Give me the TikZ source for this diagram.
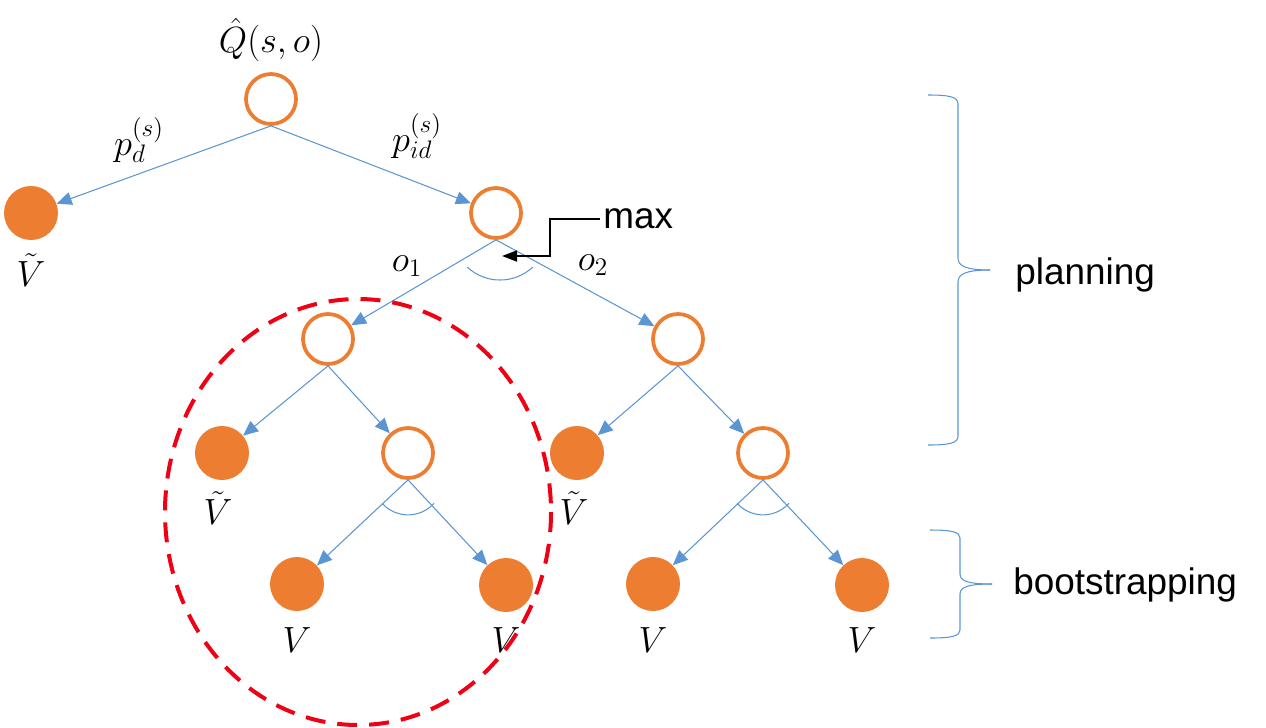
\documentclass[tikz,border=0pt]{standalone}
\usepackage{fontspec}
\setsansfont{Liberation Sans}
\usetikzlibrary{arrows.meta}
\definecolor{ored}{RGB}{237,125,49}
\definecolor{eblue}{RGB}{91,150,210}
\definecolor{dred}{RGB}{240,0,20}
\begin{document}
\begin{tikzpicture}[x=0.02cm,y=-0.02cm,
 open/.style={circle,draw=ored,line width=0.075cm,minimum size=1.0cm,inner sep=0pt,fill=white},
 full/.style={circle,fill=ored,minimum size=1.08cm,inner sep=0pt},
 edge/.style={draw=eblue,line width=0.6pt,-{Triangle[width=0.26cm,length=0.3cm]}},
 mlab/.style={inner sep=0pt,font=\fontsize{21}{25}\selectfont},
 wlab/.style={inner sep=0pt,font=\fontsize{21}{25}\selectfont\sffamily},
 brace/.style={draw=eblue,line width=0.6pt},
 sarc/.style={draw=eblue,line width=0.6pt},
 maxarrow/.style={draw=black,line width=1pt,-{Triangle[width=0.22cm,length=0.3cm]}},
 ring/.style={draw=dred,line width=0.08cm,dash pattern=on 0.4cm off 0.24cm}]
\useasboundingbox (0,0) rectangle (1266,727);
% nodes
\node[open] (root) at (271,99) {};
\node[full] (a) at (31,213) {};
\node[open] (b) at (496,213) {};
\node[open] (c) at (328,339) {};
\node[open] (d) at (678,339) {};
\node[full] (e) at (222,453) {};
\node[open] (f) at (408,453) {};
\node[full] (g) at (577,453) {};
\node[open] (h) at (763,453) {};
\node[full] (i) at (297,584) {};
\node[full] (j) at (506,585) {};
\node[full] (k) at (653,584) {};
\node[full] (l) at (862,585) {};
% labels
\node[mlab] (lQ) at (271,40) {$\hat{Q}(s,o)$};
\node[mlab] (lpd) at (139,140) {$p_d^{(s)}$};
\node[mlab] (lpid) at (417,136) {$p_{id}^{(s)}$};
\node[mlab] (lo1) at (407,266) {$o_1$};
\node[mlab] (lo2) at (593,265) {$o_2$};
\node[mlab] (la) at (31,270) {$\tilde{V}$};
\node[mlab] (le) at (218,508) {$\tilde{V}$};
\node[mlab] (lg) at (574,508) {$\tilde{V}$};
\node[mlab] (li) at (297,640) {$V$};
\node[mlab] (lj) at (506,640) {$V$};
\node[mlab] (lk) at (653,640) {$V$};
\node[mlab] (ll) at (862,640) {$V$};
\node[wlab,anchor=west,inner xsep=0.06cm] (max) at (600,219) {max};
\node[wlab,anchor=base west] (plan) at (1015,284) {planning};
\node[wlab,anchor=base west] (boot) at (1013,594) {bootstrapping};
% edges
\draw[edge] (root.south) -- (a);
\draw[edge] (root.south) -- (b);
\draw[edge] (b.south) -- (c);
\draw[edge] (b.south) -- (d);
\draw[edge] (c.south) -- (e);
\draw[edge] (c.south) -- (f);
\draw[edge] (d.south) -- (g);
\draw[edge] (d.south) -- (h);
\draw[edge] (f.south) -- (i);
\draw[edge] (f.south) -- (j);
\draw[edge] (h.south) -- (k);
\draw[edge] (h.south) -- (l);
% option arcs
\draw[sarc] ([shift={(47:48)}]500,232) arc[start angle=47,end angle=133,radius=48];
\draw[sarc] ([shift={(42:35)}]f.south) arc[start angle=42,end angle=138,radius=35];
\draw[sarc] ([shift={(42:35)}]h.south) arc[start angle=42,end angle=138,radius=35];
% max pointer
\coordinate (mtip) at (502,256);
\draw[maxarrow] (max.west) -- ++(-50,0) |- (mtip);
% braces
\draw[brace] (928,95) .. controls (950,95) and (958,97) .. (958,104) -- (958,258) .. controls (958,266) and (966,270) .. (990,270);
\draw[brace] (990,270) .. controls (966,270) and (958,274) .. (958,282) -- (958,436) .. controls (958,443) and (950,445) .. (928,445);
\draw[brace] (930,530) .. controls (952,530) and (960,532) .. (960,538) -- (960,574) .. controls (960,581) and (968,584) .. (992,584);
\draw[brace] (992,584) .. controls (968,584) and (960,587) .. (960,594) -- (960,630) .. controls (960,636) and (952,638) .. (930,638);
% red dashed ring
\draw[ring] (358,512) ellipse[x radius=193,y radius=213];
\end{tikzpicture}
\end{document}
